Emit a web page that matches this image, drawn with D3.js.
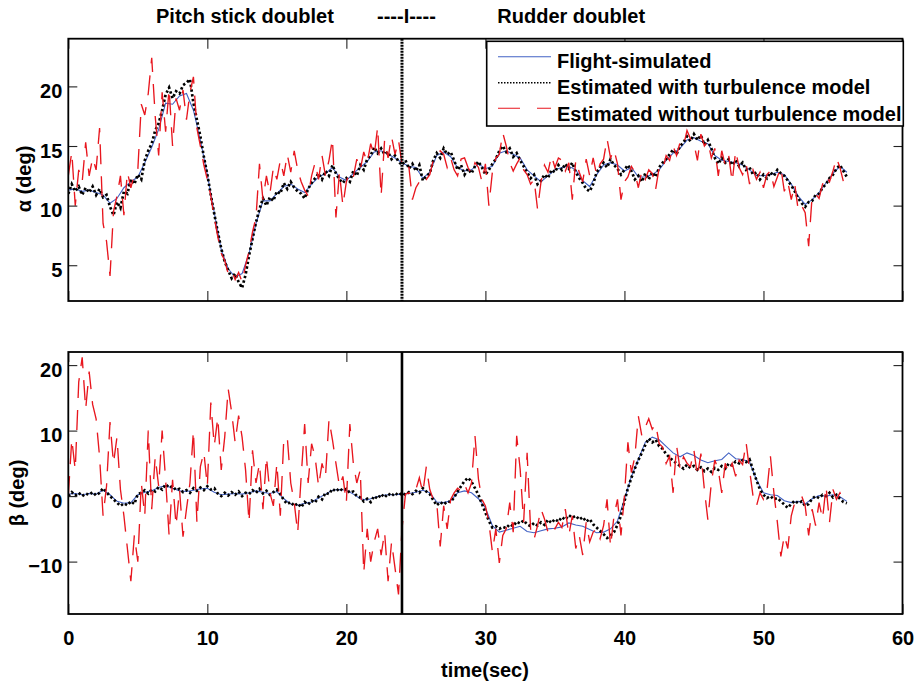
<!DOCTYPE html>
<html><head><meta charset="utf-8">
<script src="https://cdn.jsdelivr.net/npm/d3@7"></script>
<style>
body{margin:0;background:#fff;}
text{font-family:"Liberation Sans",Arial,Helvetica,sans-serif;font-weight:bold;fill:#000;}
</style></head><body>
<svg id="chart" width="918" height="686"></svg>
<script>
// ---------------- data ----------------
const dtCoarse = 0.5;   // sampling step of the flight-simulated traces (s)
const dtFine = 0.25;    // sampling step of the estimated traces (s)
const xTicks = [0, 10, 20, 30, 40, 50, 60];
const alphaTicks = [5, 10, 15, 20];
const betaTicks = [-10, 0, 10, 20];
const splitTime = 24;
const titleLeft = "Pitch stick doublet";
const titleMid = "----I----";
const titleRight = "Rudder doublet";
const legendLabels = ["Flight-simulated", "Estimated with turbulence model", "Estimated without turbulence model"];
const xLabel = "time(sec)";
const alphaLabel = "α (deg)";
const betaLabel = "β (deg)";

// alpha, flight-simulated (every 0.5 s)
const alphaSim = [
 11.3,11.4,11.2,11.3,11.1,10.9,10.2,10.6,
 11.5,12.0,12.4,13.6,14.9,16.4,18.6,18.5,
 19.2,19.4,18.0,15.5,12.6,9.4,6.3,4.7,
 4.0,4.3,6.0,8.5,10.4,10.4,11.0,11.6,
 11.8,11.4,11.1,11.8,12.4,12.7,13.2,12.4,
 12.1,12.7,13.2,13.7,14.5,14.6,14.3,14.0,
 13.6,13.3,13.2,12.3,12.8,14.2,14.5,14.1,
 13.2,12.9,13.0,13.5,13.1,13.3,14.4,14.6,
 14.3,14.0,13.0,12.5,12.0,12.5,13.0,13.2,
 13.3,13.0,12.1,11.6,12.6,13.4,13.6,13.4,
 12.9,13.2,12.4,12.4,12.6,13.0,13.8,14.4,
 14.8,15.5,15.7,15.4,15.2,14.2,13.8,13.7,
 13.6,13.4,13.0,12.5,12.5,12.6,12.8,12.6,
 11.8,10.8,10.1,10.5,11.1,11.9,12.7,13.3,
 12.8];

// alpha, estimated with turbulence model (every 0.25 s)
const alphaTurb = [
 11.0,11.8,11.2,11.6,10.9,11.5,11.1,11.6,
 10.9,11.4,10.7,10.9,9.9,9.2,10.3,9.8,
 11.2,11.0,12.2,11.8,12.6,12.2,13.8,14.6,
 15.2,16.3,16.9,18.0,19.3,19.9,19.0,19.6,
 19.4,20.1,20.3,20.6,18.6,17.2,15.8,14.1,
 12.6,10.9,9.3,7.8,6.4,5.3,4.6,3.9,
 4.3,3.6,3.1,4.2,5.8,7.2,8.6,9.7,
 10.6,10.0,10.7,10.4,11.2,11.0,11.9,11.4,
 12.0,11.5,11.2,11.0,10.6,11.4,11.9,12.3,
 12.7,12.2,12.9,12.5,13.4,12.7,12.2,11.9,
 12.3,12.0,12.9,12.5,13.4,13.0,13.9,14.2,
 14.9,14.4,14.8,14.3,14.5,13.9,14.2,13.7,
 13.4,13.8,13.1,13.5,12.9,13.4,12.1,12.5,
 12.7,13.8,14.4,14.0,14.8,14.3,14.5,13.8,
 13.0,13.4,12.6,13.1,12.7,13.3,13.7,13.2,
 12.6,13.0,13.5,13.9,14.6,15.0,14.5,14.8,
 14.1,14.4,13.8,13.3,12.8,12.3,12.6,11.8,
 12.1,12.6,12.3,13.0,12.8,13.4,13.0,13.5,
 13.1,13.6,12.8,12.3,11.9,11.4,11.2,11.8,
 12.8,13.2,13.6,13.2,13.9,13.4,13.1,12.6,
 13.0,13.4,12.9,12.2,12.5,12.0,12.7,12.2,
 12.8,12.4,13.2,13.6,13.9,14.3,14.7,14.3,
 15.0,15.3,15.8,15.4,16.0,15.5,15.9,15.1,
 15.5,14.8,14.0,13.5,14.0,13.6,13.9,13.4,
 13.8,13.3,13.6,13.0,13.2,12.6,12.8,12.2,
 12.6,12.3,12.8,12.5,13.0,12.7,12.5,12.1,
 11.7,11.2,10.6,10.2,9.9,10.3,10.4,10.9,
 11.0,11.5,11.8,12.3,12.6,13.1,13.4,12.9,
 12.4];

// alpha, estimated without turbulence model (every 0.25 s)
const alphaNoTurb = [
 12.5,14.5,10.0,13.0,12.0,15.3,12.5,14.0,
 13.0,16.5,8.5,7.0,4.1,9.5,10.8,12.5,
 9.2,12.8,11.5,12.6,13.0,18.5,17.6,19.4,
 22.4,17.5,14.2,19.5,16.2,19.8,15.0,19.0,
 18.0,19.7,17.2,19.5,20.8,16.5,15.0,13.4,
 12.2,10.8,9.0,7.4,6.0,5.4,4.3,4.6,
 3.8,4.4,3.6,5.0,6.2,7.8,9.0,13.5,
 10.5,12.5,11.0,13.2,12.2,13.8,12.5,14.3,
 12.8,14.6,13.0,12.0,11.3,10.8,12.5,13.6,
 12.2,14.2,12.5,13.8,15.6,9.0,12.8,10.0,
 12.0,12.8,12.4,13.9,13.0,14.5,13.6,15.2,
 14.2,16.6,10.8,15.5,14.0,15.8,14.3,15.5,
 13.5,13.0,13.2,10.5,11.5,12.0,12.5,12.2,
 12.6,13.8,14.2,14.6,14.3,13.2,14.0,13.0,
 12.5,13.9,14.0,13.2,12.7,13.6,13.2,12.0,
 13.5,10.0,12.8,14.0,14.3,16.1,15.0,13.6,
 12.9,13.5,14.0,13.0,12.6,11.8,12.2,9.7,
 12.0,13.4,12.8,14.2,13.2,14.0,13.8,12.9,
 13.6,10.5,13.8,12.8,12.0,13.9,12.5,14.0,
 12.6,13.5,13.9,15.6,14.0,14.7,13.5,10.5,
 12.0,12.4,13.3,12.8,11.5,12.9,12.2,13.0,
 12.7,11.4,13.2,13.0,14.2,13.8,15.0,14.2,
 15.3,15.0,16.3,15.6,15.2,13.8,16.0,15.0,
 15.4,14.0,14.8,12.5,14.6,13.4,14.2,12.0,
 14.6,13.2,12.6,13.5,11.8,13.0,12.2,12.8,
 11.5,12.6,12.9,11.6,12.4,13.2,11.2,12.0,
 10.5,11.8,9.6,10.0,9.4,6.6,10.8,11.0,
 10.6,11.8,12.5,12.0,12.9,14.0,13.2,12.0,
 12.6];

// beta, flight-simulated (every 0.5 s)
const betaSim = [
 0.3,0.4,0.2,0.4,0.3,0.9,0.2,-0.8,
 -1.1,-1.0,0.2,0.6,0.8,1.3,1.6,1.2,
 0.8,0.7,0.9,1.1,1.2,0.6,0.2,0.3,
 0.4,0.3,0.5,0.8,0.6,0.4,0.7,-0.4,
 -1.2,-1.4,-1.1,-0.9,-0.3,0.3,0.9,1.0,
 0.9,0.3,-0.4,-0.6,-0.2,0.1,0.2,0.2,
 0.3,0.4,0.6,0.9,0.5,-0.9,-1.0,-0.7,
 0.5,0.8,0.5,-0.4,-1.8,-4.5,-5.5,-5.2,
 -4.9,-4.6,-5.4,-5.6,-5.3,-5.0,-4.9,-4.7,
 -4.1,-4.4,-4.6,-5.1,-5.6,-5.5,-5.0,-3.8,
 -0.5,3.0,5.6,8.2,9.0,8.6,7.6,6.6,
 6.0,6.6,6.2,5.5,5.1,5.4,5.6,6.6,
 5.7,5.6,5.2,2.5,0.5,0.2,0.1,-0.7,
 -1.0,-0.8,-1.2,-0.4,0.1,0.0,0.2,-0.1,
 -0.8];

// beta, estimated with turbulence model (every 0.25 s)
const betaTurb = [
 0.0,0.6,0.1,0.5,0.0,0.4,0.2,0.6,
 0.1,0.5,1.2,0.6,0.0,-0.5,-1.0,-1.5,
 -1.1,-1.4,-0.8,-1.2,0.3,0.5,0.9,0.4,
 1.0,0.7,1.4,1.0,1.8,1.3,1.5,0.9,
 1.1,0.6,0.9,0.5,1.2,0.8,1.3,0.9,
 1.5,1.0,1.2,0.4,0.0,0.5,0.1,0.6,
 0.2,0.7,0.0,0.5,0.3,0.9,0.5,1.1,
 0.4,0.8,0.2,0.6,1.0,0.3,-0.6,-1.2,
 -0.9,-1.5,-1.1,-1.7,-0.9,-1.3,-0.7,-1.0,
 -0.1,-0.5,0.5,0.3,1.1,0.7,1.2,0.8,
 1.1,0.5,0.7,0.0,-0.2,-0.8,-0.4,-0.9,
 0.0,-0.4,0.3,-0.2,0.4,0.0,0.5,0.1,
 0.5,0.2,0.6,0.3,0.8,0.5,1.2,0.7,
 0.3,-0.6,-1.4,-0.9,-1.3,-0.8,-0.9,-0.2,
 0.7,1.5,2.3,2.8,2.2,1.2,0.2,-1.2,
 -2.5,-3.8,-4.8,-4.6,-5.0,-4.7,-4.9,-4.3,
 -4.6,-3.9,-4.2,-3.7,-4.3,-4.6,-4.1,-4.5,
 -4.0,-4.4,-3.6,-4.1,-3.5,-3.9,-3.2,-3.6,
 -2.9,-3.3,-3.0,-3.6,-3.2,-3.9,-3.5,-4.3,
 -4.8,-5.3,-5.8,-6.4,-6.0,-5.5,-4.4,-3.0,
 -0.8,1.2,2.8,4.2,5.5,6.6,7.8,8.8,
 8.2,8.6,7.6,7.2,6.4,5.9,5.4,5.0,
 4.6,4.2,4.8,4.3,4.6,4.0,4.4,3.8,
 4.2,3.7,4.3,4.0,4.6,4.2,5.0,4.7,
 5.3,5.0,5.5,5.2,5.6,4.0,2.4,1.0,
 0.2,-0.3,0.0,-0.5,-0.3,-0.8,-1.3,-1.8,
 -1.2,-0.7,-1.1,-0.8,-1.5,-1.2,-0.4,0.0,
 -0.3,0.2,0.0,0.5,-0.2,0.2,-0.4,-0.9,
 -1.1];

// beta, estimated without turbulence model (every 0.25 s)
const betaNoTurb = [
 0.0,8.7,4.0,17.4,21.2,13.3,19.0,14.0,
 11.8,6.0,-3.0,1.5,11.3,5.0,9.0,1.0,
 -3.0,-8.0,-13.0,-6.0,-10.0,2.0,-3.0,10.0,
 -2.0,6.0,1.5,10.0,2.5,-6.0,2.5,-4.5,
 1.0,-6.2,-2.0,2.0,10.0,-4.0,4.5,6.7,
 1.5,14.3,7.7,12.0,4.0,9.0,16.4,12.8,
 8.2,12.3,9.0,4.0,-4.0,7.0,2.0,5.0,
 -2.0,6.0,0.5,-1.5,5.0,-3.0,8.7,9.0,
 2.0,-1.0,-5.6,3.0,11.0,2.0,8.0,6.0,
 1.5,5.0,3.0,11.7,8.6,5.0,1.5,3.0,
 -1.0,11.0,5.0,2.0,4.0,-11.7,-5.0,-10.0,
 -7.0,-5.0,-9.0,-5.5,-13.0,-7.0,-11.0,-15.0,
 -5.0,0.3,0.5,0.1,1.0,2.8,0.5,4.5,
 1.0,-0.5,-1.0,-7.7,-1.5,-5.0,-0.5,0.5,
 1.2,0.8,1.8,0.5,2.0,9.2,2.6,-0.5,
 -1.5,-4.0,-8.5,-5.0,-10.2,-6.0,-5.0,-1.0,
 -5.5,9.2,4.1,-4.0,6.6,-5.0,-6.6,-4.5,
 -2.0,-3.5,-5.5,-4.5,-5.0,-4.0,-4.8,-2.0,
 -6.0,-3.0,-8.0,-6.0,-9.0,-4.0,-7.0,-5.5,
 -5.0,-6.5,-4.5,-0.5,-7.7,-3.0,-0.5,-6.0,
 0.0,8.2,3.6,6.0,12.2,9.2,10.5,11.8,
 10.2,11.0,8.0,7.5,5.0,6.1,0.5,7.7,
 4.1,6.0,5.0,4.5,7.0,3.0,6.5,1.0,
 -3.6,2.0,5.5,4.0,0.5,5.0,3.5,5.0,
 3.0,5.5,4.8,8.2,4.0,0.0,-1.5,0.5,
 -0.5,0.8,6.1,0.5,-4.0,-9.2,-6.0,-8.0,
 -3.0,-1.0,-0.5,0.0,-1.5,-6.0,-2.0,-4.5,
 -1.0,-3.5,1.5,-4.0,1.0,-0.5,0.5,-0.8,
 -1.0];

// ---------------- styles ----------------
const colSim = "#4262c4", colTurb = "#000", colNoTurb = "#e8161e";
const fontSize = 20;

// ---------------- drawing ----------------
const svg = d3.select("#chart");
const x = d3.scaleLinear().domain([0, 60]).range([68.3, 902.5]);
const xL = x.range()[0], xR = x.range()[1];

const panels = [
  {id: "a", y: d3.scaleLinear().domain([2, 24]).range([301, 38.7]), ticks: alphaTicks,
   sim: alphaSim, turb: alphaTurb, noTurb: alphaNoTurb, label: alphaLabel, labelX: 31, labelY: 179,
   dottedSplit: true, xLabels: false},
  {id: "b", y: d3.scaleLinear().domain([-18, 22]).range([614, 352]), ticks: betaTicks,
   sim: betaSim, turb: betaTurb, noTurb: betaNoTurb, label: betaLabel, labelX: 24, labelY: 493,
   dottedSplit: false, xLabels: true}
];

const toPts = (arr, dt) => arr.map((v, i) => [i * dt, v]);

panels.forEach(p => {
  const yT = p.y.range()[1], yB = p.y.range()[0];
  svg.append("clipPath").attr("id", "clip-" + p.id)
    .append("rect").attr("x", xL).attr("y", yT).attr("width", xR - xL).attr("height", yB - yT);
  const line = d3.line().x(d => x(d[0])).y(d => p.y(d[1]));
  const g = svg.append("g").attr("clip-path", `url(#clip-${p.id})`);
  g.append("path").datum(toPts(p.sim, dtCoarse)).attr("d", line)
    .attr("fill", "none").attr("stroke", colSim).attr("stroke-width", 1.1);
  g.append("path").datum(toPts(p.turb, dtFine)).attr("d", line)
    .attr("fill", "none").attr("stroke", colTurb).attr("stroke-width", 2.7)
    .attr("stroke-dasharray", "2.4,2.4");
  g.append("path").datum(toPts(p.noTurb, dtFine)).attr("d", line)
    .attr("fill", "none").attr("stroke", colNoTurb).attr("stroke-width", 1.35)
    .attr("stroke-dasharray", "20,12");

  // split line
  svg.append("line").attr("x1", x(splitTime)).attr("x2", x(splitTime))
    .attr("y1", yT).attr("y2", yB).attr("stroke", "#000")
    .attr("stroke-width", p.dottedSplit ? 3 : 2.6)
    .attr("stroke-dasharray", p.dottedSplit ? "2,1" : null);

  // axes with inward ticks
  const ax = (gen, tx, ty) => {
    const a = svg.append("g").attr("transform", `translate(${tx},${ty})`).call(gen);
    a.select(".domain").remove();
    a.selectAll("line").attr("stroke", "#222").attr("stroke-width", 1.1);
    a.selectAll("text").style("font-size", fontSize + "px").style("font-family", '"Liberation Sans",Arial,sans-serif')
      .style("font-weight", "bold").attr("fill", "#000");
    return a;
  };
  ax(d3.axisBottom(x).tickValues(xTicks).tickSizeInner(-10).tickSizeOuter(0).tickPadding(16.8)
      .tickFormat(p.xLabels ? d3.format("d") : () => ""), 0, yB);
  ax(d3.axisTop(x).tickValues(xTicks).tickSizeInner(-10).tickSizeOuter(0).tickFormat(() => ""), 0, yT);
  const la = ax(d3.axisLeft(p.y).tickValues(p.ticks).tickSizeInner(-9).tickSizeOuter(0).tickPadding(6), xL, 0);
  la.selectAll("text").attr("dy", "0.55em");
  ax(d3.axisRight(p.y).tickValues(p.ticks).tickSizeInner(-9).tickSizeOuter(0).tickFormat(() => ""), xR, 0);

  // frame
  svg.append("rect").attr("x", xL).attr("y", yT).attr("width", xR - xL).attr("height", yB - yT)
    .attr("fill", "none").attr("stroke", "#000").attr("stroke-width", 1.8);

  // y label
  svg.append("text").attr("transform", `translate(${p.labelX},${p.labelY}) rotate(-90)`)
    .attr("text-anchor", "middle").style("font-size", fontSize + "px").text(p.label);
});

// titles
svg.append("text").attr("x", 156).attr("y", 22.7).style("font-size", fontSize + "px").text(titleLeft);
svg.append("text").attr("x", 377).attr("y", 22.7).style("font-size", fontSize + "px").text(titleMid);
svg.append("text").attr("x", 497.3).attr("y", 22.7).style("font-size", fontSize + "px").text(titleRight);

// x label
svg.append("text").attr("x", 485).attr("y", 677).attr("text-anchor", "middle")
  .style("font-size", fontSize + "px").text(xLabel);

// legend
const lg = svg.append("g");
lg.append("rect").attr("x", 486.7).attr("y", 41.3).attr("width", 416.6).attr("height", 84.7)
  .attr("fill", "#fff").attr("stroke", "#000").attr("stroke-width", 1.6);
const legStyles = [
  {c: colSim, w: 1.1, d: null},
  {c: colTurb, w: 1.6, d: "1.5,1.5"},
  {c: colNoTurb, w: 1.1, d: "22,17"}
];
const legLineY = [56.7, 82.7, 108.3];
const legTextY = [68.3, 93.5, 120.7];
legendLabels.forEach((t, i) => {
  lg.append("line").attr("x1", 498).attr("x2", 551).attr("y1", legLineY[i]).attr("y2", legLineY[i])
    .attr("stroke", legStyles[i].c).attr("stroke-width", legStyles[i].w)
    .attr("stroke-dasharray", legStyles[i].d);
  lg.append("text").attr("x", 557).attr("y", legTextY[i]).style("font-size", fontSize + "px").text(t);
});
</script>
</body></html>
